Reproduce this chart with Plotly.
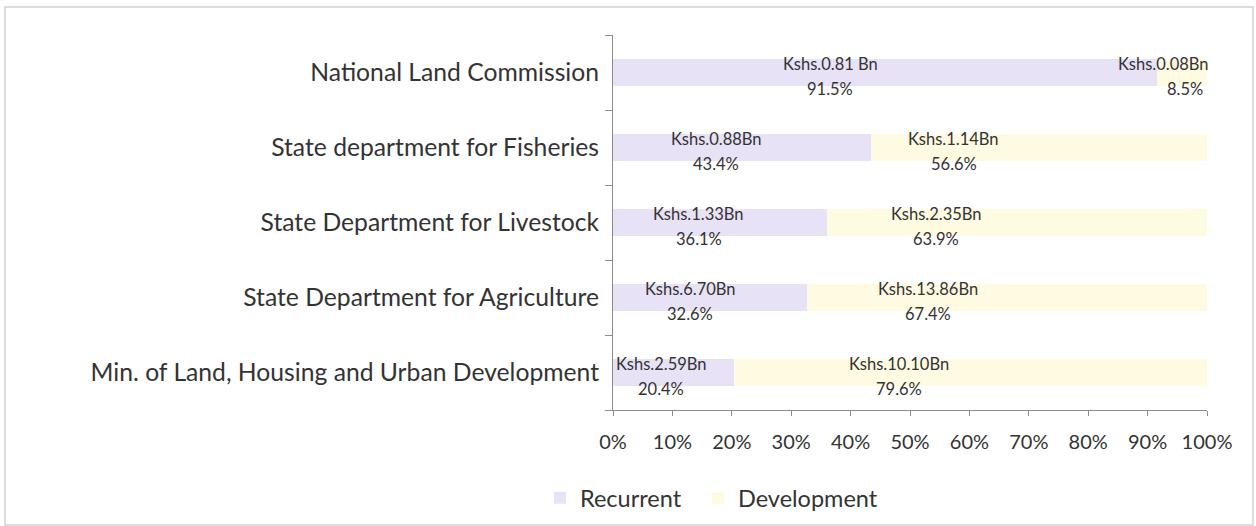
import plotly.graph_objects as go

categories = [
    "National Land Commission",
    "State department for Fisheries",
    "State Department for Livestock",
    "State Department for Agriculture",
    "Min. of Land, Housing and Urban Development",
]
recurrent_pct = [91.5, 43.4, 36.1, 32.6, 20.4]
development_pct = [8.5, 56.6, 63.9, 67.4, 79.6]
recurrent_amt = ["Kshs.0.81 Bn", "Kshs.0.88Bn", "Kshs.1.33Bn", "Kshs.6.70Bn", "Kshs.2.59Bn"]
development_amt = ["Kshs.0.08Bn", "Kshs.1.14Bn", "Kshs.2.35Bn", "Kshs.13.86Bn", "Kshs.10.10Bn"]
x_ticks = [0, 10, 20, 30, 40, 50, 60, 70, 80, 90, 100]

W, H = 1256, 526
L, R, T, B = 613, 49, 35, 116
pw, ph = W - L - R, H - T - B

def px_x(p):
    return (p - L) / pw

def px_y(p):
    return (H - B - p) / ph

FONT = "Lato"
TXT = "#333333"
REC_C = "#E8E2F6"
DEV_C = "#FEFBE2"
LBL = 16.5
Y1, Y2 = 9, -16

fig = go.Figure()
fig.add_trace(go.Bar(
    y=categories, x=recurrent_pct, orientation="h", name="Recurrent",
    marker=dict(color=REC_C, line=dict(width=0)), width=0.36, legend="legend",
))
fig.add_trace(go.Bar(
    y=categories, x=development_pct, orientation="h", name="Development",
    marker=dict(color=DEV_C, line=dict(width=0)), width=0.36, legend="legend2",
))

annotations = []

def add_label(x, cat, line1, line2, anchor, xs1=0, xs2=0):
    for txt, ys, xs in ((line1, Y1, xs1), (line2, Y2, xs2)):
        annotations.append(dict(
            x=x, y=cat, xref="x", yref="y", showarrow=False, text=txt,
            xanchor=anchor, yanchor="middle", yshift=ys, xshift=xs,
            font=dict(family=FONT, size=LBL, color=TXT),
        ))

for cat, rp, dp, ra, da in zip(categories, recurrent_pct, development_pct, recurrent_amt, development_amt):
    add_label((rp / 2) * 0.8, cat, ra, f"{rp:.1f}%", "center")
    if dp < 15:
        add_label(rp + dp, cat, da, f"{dp:.1f}%", "right", xs1=4, xs2=-2)
    else:
        add_label((rp + dp / 2) * 0.8, cat, da, f"{dp:.1f}%", "center")

leg_common = dict(
    orientation="h", xanchor="left", yanchor="middle",
    font=dict(family=FONT, size=23.5, color=TXT), itemwidth=30,
    bgcolor="rgba(0,0,0,0)",
)
fig.update_layout(
    width=W, height=H,
    margin=dict(l=L, r=R, t=T, b=B, pad=0, autoexpand=False),
    barmode="stack",
    bargap=0.5,
    paper_bgcolor="white", plot_bgcolor="white",
    font=dict(family=FONT, color=TXT),
    showlegend=True,
    legend=dict(x=px_x(540), y=px_y(498), **leg_common),
    legend2=dict(x=px_x(698), y=px_y(498), **leg_common),
    annotations=annotations,
    shapes=[dict(
        type="rect", xref="paper", yref="paper",
        x0=px_x(5), x1=px_x(1253), y0=px_y(525), y1=px_y(7),
        line=dict(color="#d2d2d2", width=1.5), fillcolor="rgba(0,0,0,0)", layer="below",
    )],
)
fig.update_xaxes(
    range=[0, 100], tickvals=x_ticks, ticktext=[f"{v}%" for v in x_ticks],
    showgrid=False, zeroline=False, showline=True, linecolor="#8c8c8c", linewidth=1,
    ticks="outside", ticklen=5, tickcolor="#8c8c8c",
    tickfont=dict(family=FONT, size=20, color=TXT), ticklabelstandoff=9,
    automargin=False,
)
fig.update_yaxes(
    type="category", categoryorder="array", categoryarray=categories[::-1],
    showgrid=False, zeroline=False, showline=True, linecolor="#8c8c8c", linewidth=1,
    ticks="outside", ticklen=7, tickcolor="#8c8c8c", tickson="boundaries",
    tickfont=dict(family=FONT, size=24.7, color=TXT), ticklabelstandoff=8,
    automargin=False,
)

fig.write_html(
    "out.html",
    config={"displayModeBar": False},
    post_script="document.body.style.margin='0';document.body.style.padding='0';",
)
